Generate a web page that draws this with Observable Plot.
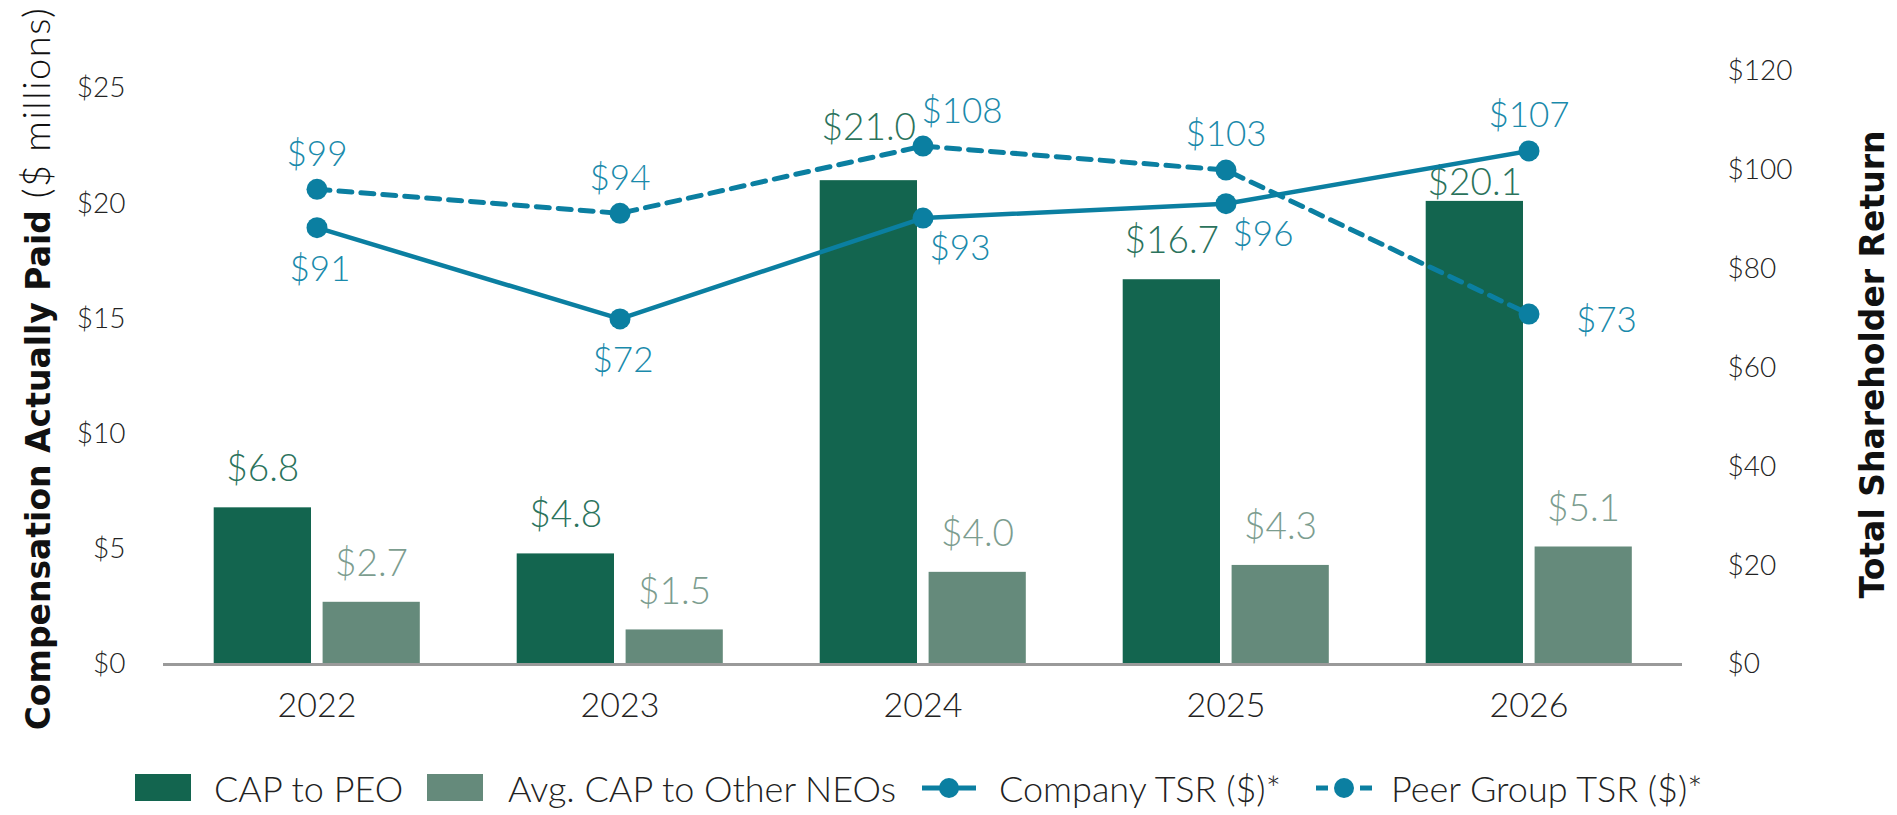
<!DOCTYPE html>
<html>
<head>
<meta charset="utf-8">
<script src="https://cdn.jsdelivr.net/npm/d3@7"></script>
<script src="https://cdn.jsdelivr.net/npm/@observablehq/plot@0.6"></script>
<style>
  html, body { margin: 0; padding: 0; background: #fff; }
  #wrap { position: relative; width: 1897px; height: 815px; overflow: hidden; font-family: Lato, sans-serif; }
  #legend { position: absolute; left: 0; top: 760px; width: 1897px; height: 55px; }
  .li { position: absolute; top: 0; height: 55px; display: flex; align-items: center; font-weight: 300; font-size: 36px; color: #222; white-space: nowrap; }
</style>
</head>
<body>
<div id="wrap"><div id="chart"></div><div id="legend"></div></div>
<script>
// ---- data ----
const years = ["2022", "2023", "2024", "2025", "2026"];
const capPEO = [6.8, 4.8, 21.0, 16.7, 20.1];        // $ millions
const capNEO = [2.7, 1.5, 4.0, 4.3, 5.1];           // $ millions
const companyTSR = [91, 72, 93, 96, 107];           // $
const peerTSR = [99, 94, 108, 103, 73];             // $
const leftTicks = [0, 5, 10, 15, 20, 25];
const rightTicks = [0, 20, 40, 60, 80, 100, 120];
const seriesNames = ["CAP to PEO", "Avg. CAP to Other NEOs", "Company TSR ($)*", "Peer Group TSR ($)*"];

// label placement (categorical)
const peoLabelPlace = ["above", "above", "raised", "above", "tucked"];
const companyLabelPlace = ["below", "below", "belowRight", "belowRight", "above"];
const peerLabelPlace = ["above", "above", "aboveRight", "above", "right"];

// ---- styling ----
const C_PEO = "#13654f", C_NEO = "#658a7b", C_TSR = "#0b7fa1";
const T_PEO = "#2b735c", T_NEO = "#7c9d8f", T_TSR = "#1a8aab";
const capMax = 25, tsrMax = 120;
const rightAxisTop = 25.74;                 // left-axis value where the $120 label sits
const tsrToCap = v => v * capMax / tsrMax;  // TSR plotted so $120 ≙ $25

const peo = years.map((year, i) => ({year, value: capPEO[i], place: peoLabelPlace[i]}));
const neo = years.map((year, i) => ({year, value: capNEO[i]}));
const comp = years.map((year, i) => ({year, value: companyTSR[i], place: companyLabelPlace[i]}));
const peer = years.map((year, i) => ({year, value: peerTSR[i], place: peerLabelPlace[i]}));

const barLabelDy = {above: -39, raised: -53, tucked: -18};
const tsrLabelOff = {
  above: {dx: 0, dy: -35, anchor: "middle"},
  below: {dx: 3, dy: 42, anchor: "middle"},
  belowRight: {dx: 37, dy: 31, anchor: "middle"},
  aboveRight: {dx: 39, dy: -34, anchor: "middle"},
  right: {dx: 47, dy: 7, anchor: "start"}
};
const fmtM = d => "$" + d.value.toFixed(1);
const fmtT = d => "$" + d.value;

const marks = [
  Plot.barY(peo, {x: "year", y: "value", fill: C_PEO, insetLeft: 48.7, insetRight: 157}),
  Plot.barY(neo, {x: "year", y: "value", fill: C_NEO, insetLeft: 157.6, insetRight: 48.2}),
  Plot.ruleY([0], {stroke: "#9a9a9a", strokeWidth: 3}),
  Plot.text(neo, {x: "year", y: "value", text: fmtM, dx: 54.5, dy: -38, fill: T_NEO, fontSize: 37, fontWeight: 300})
];
for (const [k, dy] of Object.entries(barLabelDy)) {
  marks.push(Plot.text(peo.filter(d => d.place === k), {x: "year", y: "value", text: fmtM, dx: -54.2, dy, fill: T_PEO, fontSize: 37, fontWeight: 300}));
}
marks.push(
  Plot.line(comp, {x: "year", y: d => tsrToCap(d.value), stroke: C_TSR, strokeWidth: 4.5}),
  Plot.line(peer, {x: "year", y: d => tsrToCap(d.value), stroke: C_TSR, strokeWidth: 5, strokeDasharray: "13,9"}),
  Plot.dot(comp, {x: "year", y: d => tsrToCap(d.value), r: 10.5, fill: C_TSR}),
  Plot.dot(peer, {x: "year", y: d => tsrToCap(d.value), r: 10.5, fill: C_TSR})
);
for (const [k, o] of Object.entries(tsrLabelOff)) {
  for (const s of [comp, peer]) {
    const sub = s.filter(d => d.place === k);
    if (sub.length) marks.push(Plot.text(sub, {x: "year", y: d => tsrToCap(d.value), text: fmtT, dx: o.dx, dy: o.dy, textAnchor: o.anchor, fill: T_TSR, fontSize: 35, fontWeight: 300}));
  }
}
marks.push(
  Plot.axisY(leftTicks, {anchor: "left", tickSize: 0, tickPadding: 38, tickFormat: d => "$" + d, fontSize: 28, fontWeight: 300, fill: "#222", label: null}),
  Plot.axisY(rightTicks.map(t => t * rightAxisTop / tsrMax), {anchor: "right", tickSize: 0, tickPadding: 45, tickFormat: d => "$" + Math.round(d * tsrMax / rightAxisTop), fontSize: 28, fontWeight: 300, fill: "#222", label: null}),
  Plot.axisX({tickSize: 0, tickPadding: 28, fontSize: 34, fontWeight: 300, fill: "#222", label: null}),
  Plot.text(["Compensation Actually Paid"], {text: d => d, frameAnchor: "left", dx: -124, dy: -8, rotate: -90, textAnchor: "middle", lineAnchor: "middle", fontSize: 33, fontWeight: "bold", fontFamily: "DejaVu Sans", fill: "#111"}),
  Plot.text(["Total Shareholder Return"], {text: d => d, frameAnchor: "right", dx: 191, dy: -12, rotate: -90, textAnchor: "middle", lineAnchor: "middle", fontSize: 33, fontWeight: "bold", fontFamily: "DejaVu Sans", fill: "#111"})
);

const chart = Plot.plot({
  width: 1897, height: 760,
  marginLeft: 163, marginRight: 215, marginTop: 88, marginBottom: 96,
  x: {type: "band", domain: years, padding: 0, label: null},
  y: {domain: [0, capMax], label: null},
  style: {fontFamily: "Lato, sans-serif", background: "#fff", overflow: "visible"},
  marks
});
document.getElementById("chart").appendChild(chart);

// mixed-weight left title
chart.querySelectorAll("text").forEach(t => {
  if (t.textContent === "Compensation Actually Paid") {
    const ts = document.createElementNS("http://www.w3.org/2000/svg", "tspan");
    ts.setAttribute("font-weight", "300");
    ts.setAttribute("font-family", "Lato");
    ts.setAttribute("font-size", "38");
    ts.setAttribute("letter-spacing", "1.5");
    ts.textContent = " ($ millions)";
    t.appendChild(ts);
  }
});

// legend
const legend = document.getElementById("legend");
const items = [
  {name: seriesNames[0], kind: "rect", color: C_PEO, left: 135, textLeft: 214},
  {name: seriesNames[1], kind: "rect", color: C_NEO, left: 427, textLeft: 508},
  {name: seriesNames[2], kind: "solid", color: C_TSR, left: 922, textLeft: 999},
  {name: seriesNames[3], kind: "dash", color: C_TSR, left: 1316, textLeft: 1391}
];
for (const it of items) {
  const sw = document.createElement("div");
  sw.className = "li";
  sw.style.left = it.left + "px";
  if (it.kind === "rect") {
    sw.innerHTML = `<div style="width:56px;height:27px;background:${it.color}"></div>`;
  } else if (it.kind === "solid") {
    sw.innerHTML = `<svg width="54" height="28"><line x1="0" x2="54" y1="14" y2="14" stroke="${it.color}" stroke-width="5"/><circle cx="27" cy="14" r="10" fill="${it.color}"/></svg>`;
  } else {
    sw.innerHTML = `<svg width="56" height="28"><line x1="0" x2="12" y1="14" y2="14" stroke="${it.color}" stroke-width="5"/><circle cx="28" cy="14" r="10" fill="${it.color}"/><line x1="44" x2="56" y1="14" y2="14" stroke="${it.color}" stroke-width="5"/></svg>`;
  }
  legend.appendChild(sw);
  const tx = document.createElement("div");
  tx.className = "li";
  tx.style.left = it.textLeft + "px";
  tx.textContent = it.name;
  legend.appendChild(tx);
}
</script>
</body>
</html>
